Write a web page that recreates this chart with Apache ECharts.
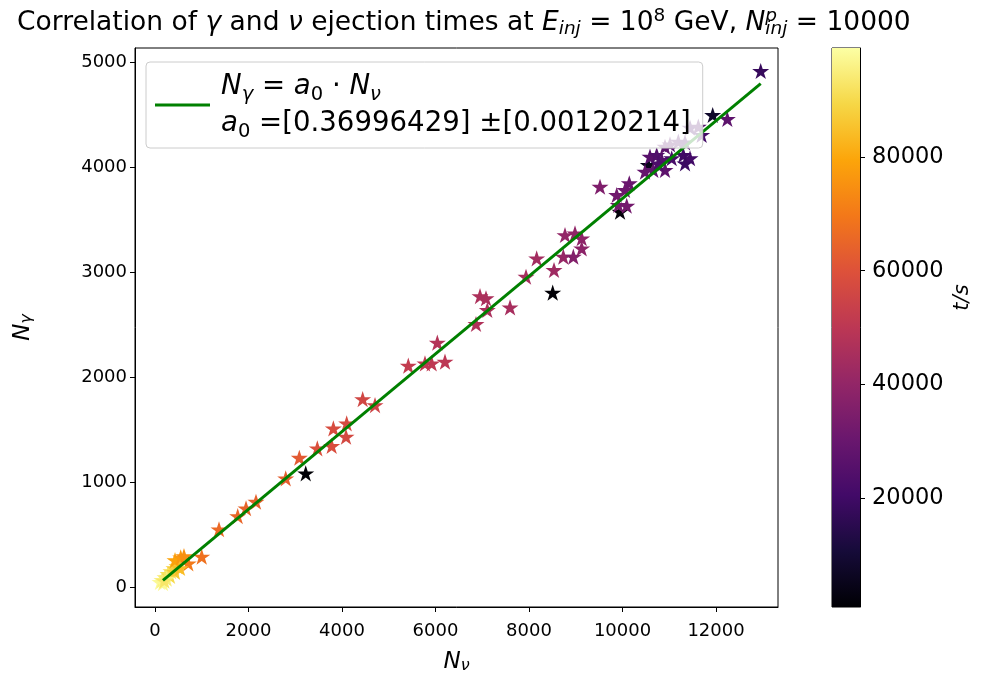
<!DOCTYPE html>
<html>
<head>
<meta charset="utf-8">
<script src="https://cdn.jsdelivr.net/npm/echarts@6/dist/echarts.min.js"></script>
<style>html,body{margin:0;padding:0;background:#fff}#c{width:986px;height:684px}</style>
</head>
<body>
<div id="c"></div>
<script>
// ---- data ----
const nuVals = [107,150,171,214,278,321,342,406,470,428,250,200,
  428,550,620,712,999,535,
  1369,1769,1947,2160,2796,3087,3472,3779,3815,4086,4100,4442,4706,5418,5775,5918,6203,6039,
  3224,8507,9947,11929,10552,
  6866,6952,7080,7108,7594,7936,8164,8535,8734,8770,8984,9127,9127,8948,9519,10145,10053,9876,9910,10090,
  10588,10731,10838,10659,10909,11052,11300,11444,11337,10481,10766,
  11444,11622,11693,11194,11016,10909,11337,
  12956,12242];
const gammaVals = [48,67,38,95,124,105,152,181,200,143,80,60,
  257,283,295,226,289,181,
  550,676,750,812,1035,1231,1321,1343,1511,1431,1559,1790,1733,2108,2130,2130,2146,2327,
  1083,2803,3574,4495,4019,
  2505,2771,2750,2638,2663,2955,3130,3019,3146,3352,3368,3321,3225,3146,3812,3845,3781,3733,3638,3631,
  4098,4114,4067,3971,3971,4083,4114,4083,4035,3955,4035,
  4374,4384,4305,4241,4216,4193,4235,
  4914,4457];
const tVals = [98000,96000,97500,94000,92000,90000,91000,88000,86000,87000,95000,93000,
  79000,77000,75000,70000,68000,84000,
  66000,65000,64500,64000,63000,62000,59000,58500,58000,57000,57500,56000,55000,52000,51000,50500,50000,48000,
  1000,1200,2000,8000,5000,
  47000,46500,46000,46000,45000,45000,44000,43000,41000,40000,39500,39000,38500,36000,35000,30000,31000,32000,33000,32500,
  26000,24000,25000,28000,27000,22000,20000,21000,19000,29000,23000,
  22000,24000,21000,25000,26000,27000,23000,
  18000,27000];
const a0 = 0.36996429;
const fitX = [170, 12956];
const xTicks = [0,2000,4000,6000,8000,10000,12000];
const yTicks = [0,1000,2000,3000,4000,5000];
const cbTicks = [20000,40000,60000,80000];
const cbRange = [800, 99200];
const inferno = ['#000004','#160b39','#420a68','#6a176e','#932667','#bc3754','#dd513a','#f37819','#fca50a','#f6d746','#fcffa4'];

// ---- build ----
const scatterData = nuVals.map((x,i)=>[x, gammaVals[i], tVals[i]]);
const lineData = fitX.map(x=>[x, a0*x]);
function starPath(){
  let d='';
  for(let i=0;i<10;i++){
    const r = i%2 ? 0.382 : 1;
    const a = -Math.PI/2 + i*Math.PI/5;
    d += (i?'L':'M') + (r*Math.cos(a)).toFixed(4) + ' ' + (r*Math.sin(a)).toFixed(4);
  }
  return 'path://' + d + 'Z';
}
const FF = 'DejaVu Sans';
const plain = v => String(v);
const stops = inferno.map((c,i)=>({offset:i/(inferno.length-1), color:c}));

const chart = echarts.init(document.getElementById('c'), null, {renderer:'canvas'});
chart.setOption({
  animation:false,
  backgroundColor:'#fff',
  title:{
    text:'Correlation of {i|γ} and {i|ν} ejection times at {i|E}{subi|inj} = 10{sup|8} GeV, {i|N}{supz|p}{subi|inj} = 10000',
    left: 12, top: 2,
    textStyle:{fontFamily:FF, fontSize:26.5, fontWeight:'normal', color:'#000', lineHeight:32,
      rich: {
        i: {fontStyle:'italic', fontSize:26.5},
        subi: {fontSize: 18.5, fontStyle:'italic', verticalAlign:'bottom', lineHeight: 16},
        sup: {fontSize: 18.5, verticalAlign:'top', lineHeight: 16},
        supz: {fontSize: 18.5, fontStyle:'italic', verticalAlign:'top', lineHeight: 14, width: 0}
      }}
  },
  legend:{
    data:[{name:'fit', icon:'rect'}],
    left:146, top:62, orient:'vertical',
    itemWidth:55, itemHeight:3, itemGap:0,
    padding:[6,12,6,9],
    backgroundColor:'rgba(255,255,255,0.8)', borderColor:'#cccccc', borderWidth:1, borderRadius:4,
    formatter: function(){ return '{i|N}{subi|γ} = {i|a}{sub|0} · {i|N}{subi|ν}\n{i|a}{sub|0} =[0.36996429] ±[0.00120214]'; },
    textStyle:{fontFamily:FF, fontSize:27.6, color:'#000', lineHeight:37, padding:[0,0,0,6],
      rich:{i:{fontStyle:'italic', fontSize:27.6}, sub:{fontSize:19.5, verticalAlign:'bottom', lineHeight:18}, subi:{fontSize:19.5, fontStyle:'italic', verticalAlign:'bottom', lineHeight:18}}}
  },
  visualMap:{type:'continuous', show:false, min:cbRange[0], max:cbRange[1], dimension:2, seriesIndex:0, inRange:{color:inferno}},
  grid:[
    {left:135, right:208, top:48, bottom:77, show:true, borderColor:'#000', borderWidth:1, backgroundColor:'transparent'},
    {left:832, width:28, top:48, bottom:77, show:true, borderColor:'#000', borderWidth:1, backgroundColor:'transparent'}
  ],
  xAxis:[
    {type:'value', gridIndex:0, min:-428, max:13326,
     name:'{i|N}{subi|ν}', nameLocation:'middle', nameGap:44,
     nameTextStyle:{fontFamily:FF, fontSize:23, color:'#000', rich:{i:{fontStyle:'italic',fontSize:23}, subi:{fontSize:16,fontStyle:'italic',verticalAlign:'bottom',lineHeight:15}}},
     axisLine:{show:true, onZero:false, lineStyle:{color:'#000', width:1}},
     axisTick:{show:true, inside:false, length:5, customValues:xTicks, lineStyle:{color:'#000'}},
     axisLabel:{customValues:xTicks, formatter:plain, fontFamily:FF, fontSize:18, color:'#000', margin:15},
     splitLine:{show:false}},
    {type:'value', gridIndex:1, min:0, max:1, show:false}
  ],
  yAxis:[
    {type:'value', gridIndex:0, min:-190, max:5133,
     name:'{i|N}{subi|γ}', nameLocation:'middle', nameGap:100, nameRotate:90,
     nameTextStyle:{fontFamily:FF, fontSize:23, color:'#000', rich:{i:{fontStyle:'italic',fontSize:23}, subi:{fontSize:16,fontStyle:'italic',verticalAlign:'bottom',lineHeight:15}}},
     axisLine:{show:true, onZero:false, lineStyle:{color:'#000', width:1}},
     axisTick:{show:true, inside:false, length:5, customValues:yTicks, lineStyle:{color:'#000'}},
     axisLabel:{customValues:yTicks, formatter:plain, fontFamily:FF, fontSize:18, color:'#000', margin:8},
     splitLine:{show:false}},
    {type:'value', gridIndex:1, min:cbRange[0], max:cbRange[1], position:'right',
     name:'{i|t/s}', nameLocation:'middle', nameGap:92, nameRotate:90,
     nameTextStyle:{fontFamily:FF, fontSize:21, color:'#000', padding:[0,0,0,60], rich:{i:{fontStyle:'italic',fontSize:21}}},
     axisLine:{show:true, onZero:false, lineStyle:{color:'#000', width:1}},
     axisTick:{show:true, inside:false, length:5, customValues:cbTicks, lineStyle:{color:'#000'}},
     axisLabel:{customValues:cbTicks, formatter:plain, fontFamily:FF, fontSize:22.5, color:'#000', margin:12},
     splitLine:{show:false}}
  ],
  series:[
    {type:'scatter', xAxisIndex:0, yAxisIndex:0, data:scatterData, symbol:starPath(), symbolSize:17, symbolKeepAspect:true,
     itemStyle:{opacity:1}, z:2},
    {type:'line', name:'fit', xAxisIndex:0, yAxisIndex:0, data:lineData, showSymbol:false, symbol:'none',
     lineStyle:{color:'#008000', width:3}, itemStyle:{color:'#008000'}, z:3},
    {type:'custom', xAxisIndex:1, yAxisIndex:1, data:[[0, cbRange[0], cbRange[1]]], encode:{x:0, y:[1,2]}, silent:true,
     renderItem:function(params, api){
       const p0 = api.coord([0, api.value(2)]);
       const p1 = api.coord([1, api.value(1)]);
       return {type:'rect', shape:{x:p0[0], y:p0[1], width:p1[0]-p0[0], height:p1[1]-p0[1]},
         style:{fill:new echarts.graphic.LinearGradient(0,1,0,0, stops)}};
     }}
  ]
});
</script>
</body>
</html>
